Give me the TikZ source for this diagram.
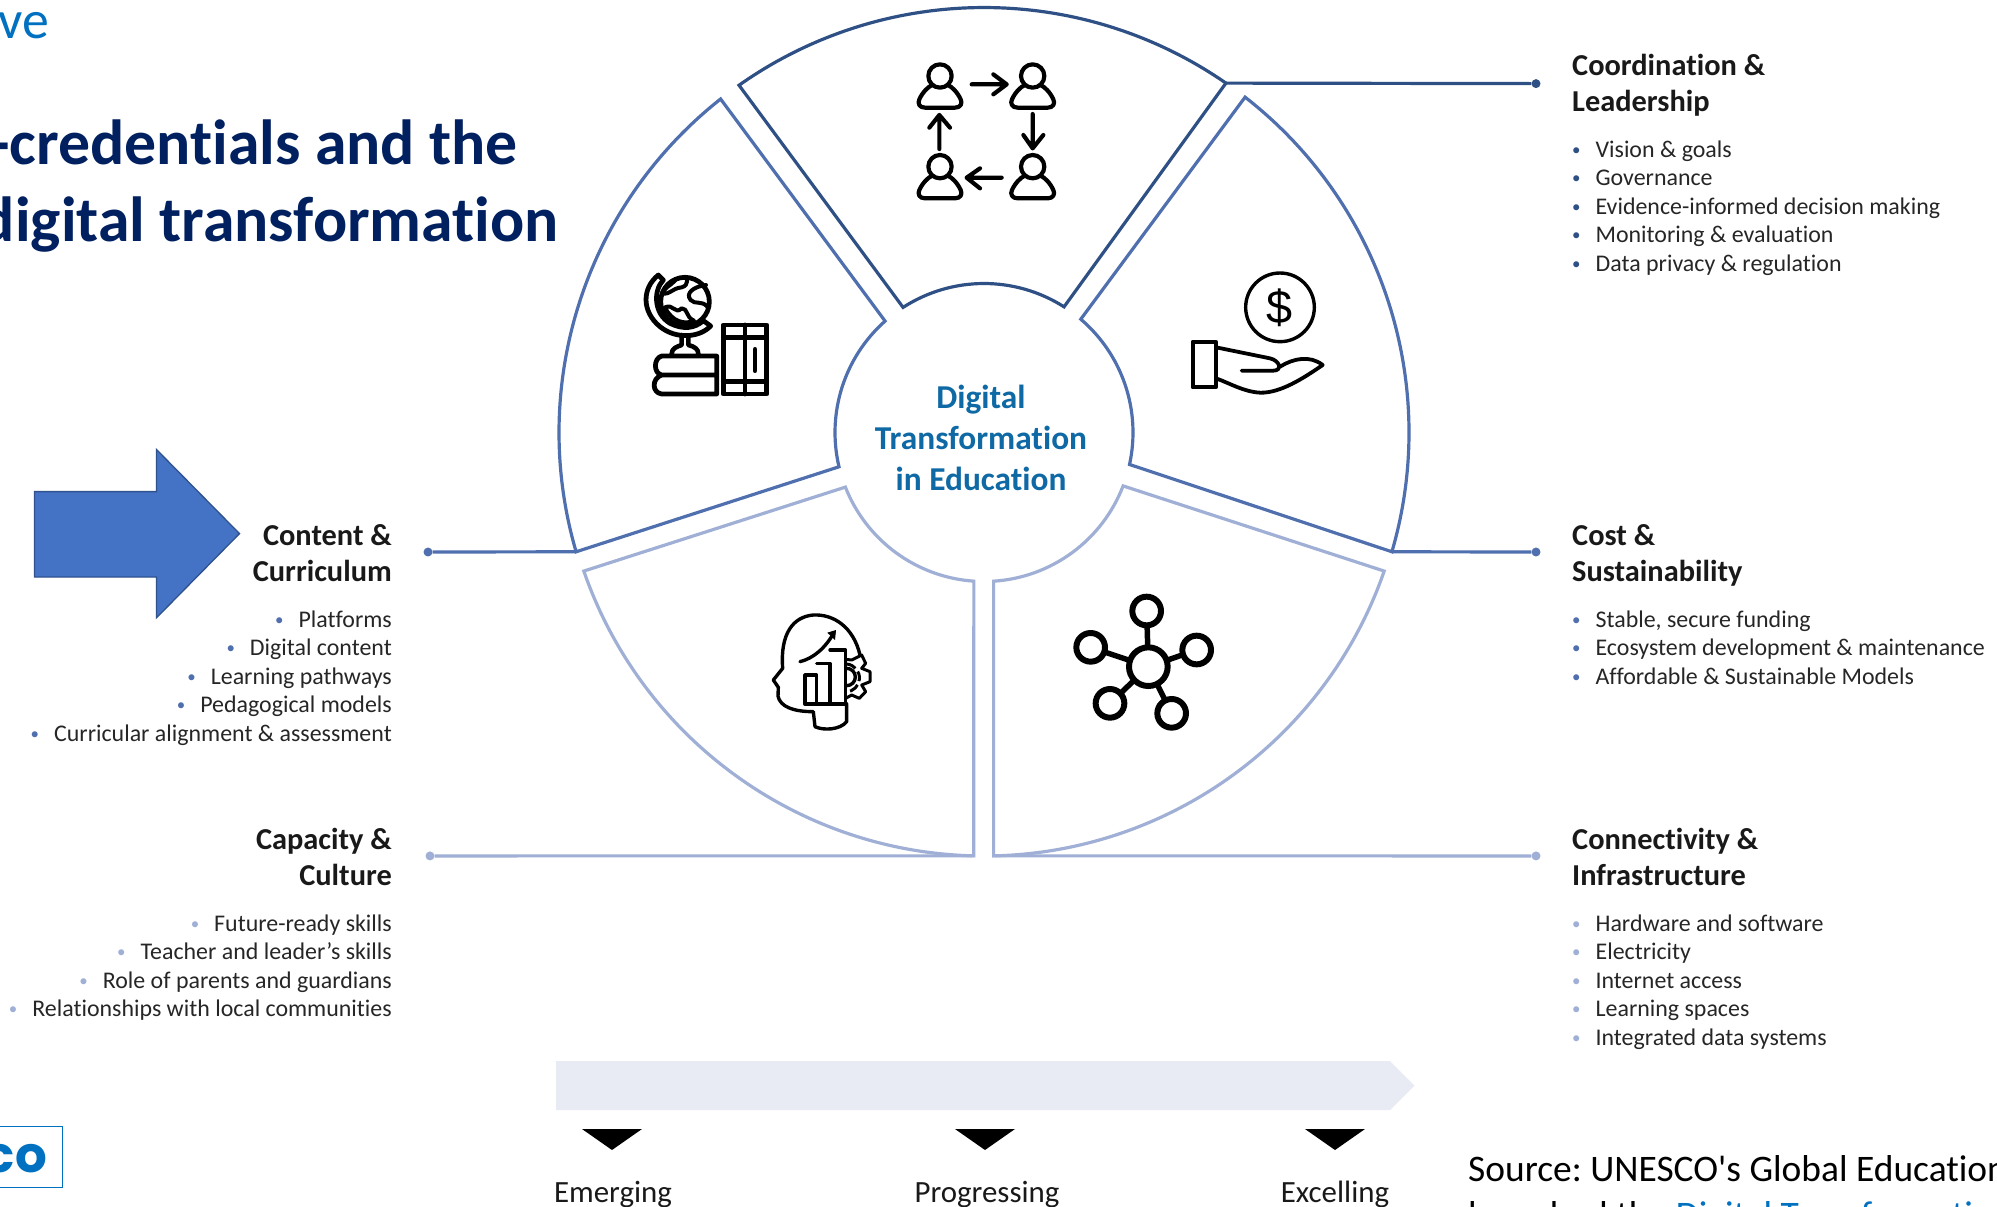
\documentclass[tikz,border=0pt]{standalone}
\usepackage{fontspec}
\setmainfont[Ligatures={TeX,NoCommon}]{Carlito}
\newfontfamily\srcfont[Ligatures={NoCommon}]{Carlito}
\newfontfamily\popfont{Poppins}
\newfontfamily\dollarfont{Liberation Sans}
\frenchspacing
\definecolor{cDark}{HTML}{2F5085}
\definecolor{cMid}{HTML}{4F6FAE}
\definecolor{cLight}{HTML}{9FAFD5}
\definecolor{cBar}{HTML}{E8EBF4}
\definecolor{cTitle}{HTML}{002060}
\definecolor{cBlue}{HTML}{0070C0}
\definecolor{cCentre}{HTML}{0F69A5}
\definecolor{cText}{HTML}{262626}
\definecolor{cArrow}{HTML}{4472C4}
\definecolor{cArrowLine}{HTML}{2F528F}
\newcommand{\bltx}[1]{\makebox[23.5pt][l]{\raisebox{1.8pt}{\fontsize{17}{17}\selectfont\textcolor{#1}{•}}}}
\newcommand{\bltd}{\bltx{cDark}}
\newcommand{\bltm}{\bltx{cMid}}
\newcommand{\bltl}{\bltx{cLight}}
\newcommand{\lsup}{\rule{0pt}{20pt}}
\newcommand{\hsup}{\rule{0pt}{24pt}}
\tikzset{
  sector/.style={line width=3.2pt,line join=miter,fill=white},
  link/.style={line width=3.2pt},
  dotend/.style={circle,inner sep=0pt,minimum size=9pt},
  headL/.style={inner sep=0pt,anchor=north west,align=left,text=black!90,font=\fontsize{30.5}{37}\selectfont\bfseries},
  headR/.style={inner sep=0pt,anchor=north east,align=right,text=black!90,font=\fontsize{30.5}{37}\selectfont\bfseries},
  listL/.style={inner sep=0pt,anchor=north west,align=left,text=cText,font=\fontsize{24}{28.6}\selectfont},
  listR/.style={inner sep=0pt,anchor=north east,align=right,text=cText,font=\fontsize{24}{28.6}\selectfont},
  level/.style={inner sep=0pt,anchor=base,text=black!90,font=\fontsize{31}{35}\selectfont},
  pointer/.style={fill=black,draw=none},
  icon/.style={line width=4.2pt,line cap=round,line join=round,draw=black},
  iconthin/.style={line width=3.4pt,line cap=round,line join=round,draw=black},
}
\begin{document}
\begin{tikzpicture}[x=1bp,y=1bp,yscale=-1]
\useasboundingbox (0,0) rectangle (1997,1206.5);
\fill[white] (0,0) rectangle (1997,1206.5);

% title
\node[inner sep=0pt,anchor=base east,text=cBlue,font=\fontsize{54}{60}\selectfont] (kicker) at (49,38) {ve};
\node[inner sep=0pt,anchor=base east,text=cTitle,font=\fontsize{64}{76}\selectfont\bfseries] (t1) at (518,164) {-credentials and the};
\node[inner sep=0pt,anchor=base east,text=cTitle,font=\fontsize{64}{76}\selectfont\bfseries] (t2) at (559,241) {digital transformation};

% wheel
\begin{scope}[shift={(984,432.5)}]
\draw[sector,draw=cMid] (-128.3:425) arc[start angle=-128.3,end angle=-196.3,radius=425] coordinate (leftC)
   -- (-193.3:149) arc[start angle=-193.3,end angle=-131.6,radius=149] -- cycle;
\draw[sector,draw=cMid] (-52.1:425) arc[start angle=-52.1,end angle=16.3,radius=425] coordinate (rightC)
   -- (12.4:149) arc[start angle=12.4,end angle=-49.5,radius=149] -- cycle;
\draw[sector,draw=cDark] (-125.2:425) arc[start angle=-125.2,end angle=-55.3,radius=425] coordinate (topC)
   -- (-57.5:149) arc[start angle=-57.5,end angle=-122.9,radius=149] -- cycle;
\draw[sector,draw=cLight] (160.9:423.5) arc[start angle=160.9,end angle=91.4,radius=423.5] coordinate (blC)
   -- (93.9:149) arc[start angle=93.9,end angle=158.5,radius=149] -- cycle;
\draw[sector,draw=cLight] (19.1:423.5) arc[start angle=19.1,end angle=88.7,radius=423.5] coordinate (brC)
   -- (86.3:149) arc[start angle=86.3,end angle=21,radius=149] -- cycle;
\end{scope}

\node[inner sep=0pt,align=center,text=cCentre,font=\fontsize{33.5}{41}\selectfont\bfseries] (centre) at (981,438) {Digital\\Transformation\\in Education};

% connector ends
\node[dotend,fill=cDark] (dTop) at (1536,83.6) {};
\node[dotend,fill=cMid] (dRight) at (1536,552) {};
\node[dotend,fill=cMid] (dLeft) at (428,552) {};
\node[dotend,fill=cLight] (dBL) at (430,855.9) {};
\node[dotend,fill=cLight] (dBR) at (1536,855.9) {};
\draw[link,draw=cDark] (topC) -- (dTop);
\draw[link,draw=cMid] (rightC) -- (dRight);
\draw[link,draw=cMid] (leftC) -- (dLeft);
\draw[link,draw=cLight] (blC) -- (dBL);
\draw[link,draw=cLight] (brC) -- (dBR);

% block arrow
\draw[fill=cArrow,draw=cArrowLine,line width=1.3pt,line join=miter]
 (34.4,491.6) -- (156.6,491.6) -- (156.6,449.6) -- (239.5,533.6) -- (156.6,617.7) -- (156.6,577) -- (34.4,577) -- cycle;

% right texts
\node[headL] (h1) at (1572,51) {\hsup Coordination \&\\Leadership};
\node[listL] (l1) at (1572,137) {\lsup\bltd Vision \& goals\\\bltd Governance\\\bltd Evidence-informed decision making\\\bltd Monitoring \& evaluation\\\bltd Data privacy \& regulation};
\node[headL] (h2) at (1572,521) {\hsup Cost \&\\Sustainability};
\node[listL] (l2) at (1572,607) {\lsup\bltm Stable, secure funding\\\bltm Ecosystem development \& maintenance\\\bltm Affordable \& Sustainable Models};
\node[headL] (h3) at (1572,825) {\hsup Connectivity \&\\Infrastructure};
\node[listL] (l3) at (1572,911) {\lsup\bltl Hardware and software\\\bltl Electricity\\\bltl Internet access\\\bltl Learning spaces\\\bltl Integrated data systems};

% left texts
\node[headR] (h4) at (392,521) {\hsup Content \&\\Curriculum};
\node[listR] (l4) at (392,607) {\lsup\bltm Platforms\\\bltm Digital content\\\bltm Learning pathways\\\bltm Pedagogical models\\\bltm Curricular alignment \& assessment};
\node[headR] (h5) at (392,825) {\hsup Capacity \&\\Culture};
\node[listR] (l5) at (392,911) {\lsup\bltl Future-ready skills\\\bltl Teacher and leader’s skills\\\bltl Role of parents and guardians\\\bltl Relationships with local communities};

% scale bar
\fill[cBar] (556,1061) -- (1390,1061) -- (1414.5,1085.5) -- (1390,1110) -- (556,1110) -- cycle;
\fill[pointer] (582,1129) -- (642,1129) -- (612,1150) -- cycle;
\fill[pointer] (955,1129) -- (1015,1129) -- (985,1150) -- cycle;
\fill[pointer] (1305,1129) -- (1365,1129) -- (1335,1150) -- cycle;
\node[level] (em) at (613,1202) {Emerging};
\node[level] (pr) at (987,1202) {Progressing};
\node[level] (ex) at (1335,1202) {Excelling};

% source
\node[inner sep=0pt,anchor=base west,text=black,font=\fontsize{37.6}{45}\srcfont] (src1) at (1468,1181) {Source: UNESCO's Global Education};
\node[inner sep=0pt,anchor=base west,text=black,font=\fontsize{37.6}{45}\srcfont] (src2) at (1468,1227) {launched the \textcolor{cBlue}{Digital Transformation}};

% logo
\draw[draw=cBlue,line width=1.4pt] (-5,1126.5) rectangle (62.5,1187.5);
\node[inner sep=0pt,anchor=base east,text=cBlue,font=\fontsize{50}{50}\popfont\bfseries] (logo) at (47,1172.5) {co};

% icon: people
\begin{scope}[shift={(880,40)},scale=1/3]
\foreach \px/\py in {180/108,458/108,180/380,458/380}{
  \begin{scope}[shift={(\px,\py)}]
   \draw[icon,fill=white] (-45,95) -- (45,95) .. controls (62,95) and (68,82) .. (62,70) .. controls (52,48) and (35,32) .. (25,28) -- (-25,28) .. controls (-35,32) and (-52,48) .. (-62,70) .. controls (-68,82) and (-62,95) .. (-45,95) -- cycle;
   \draw[icon,fill=white] (0,0) circle[radius=35];
  \end{scope}
}
\draw[icon] (275,133) -- (380,133) (340,103) -- (380,133) -- (340,163);
\draw[icon] (458,222) -- (458,325) (430,285) -- (458,325) -- (490,285);
\draw[icon] (365,413) -- (260,413) (300,385) -- (260,413) -- (300,445);
\draw[icon] (178,327) -- (178,225) (148,263) -- (178,225) -- (210,263);
\end{scope}

% icon: globe and books
\begin{scope}[shift={(620,250)},scale=1/3]
\draw[icon,line width=4.8pt] (195,155) circle[radius=73];
\draw[icon,line width=4.8pt] (115,75) -- (130,90) .. controls (100,120) and (100,190) .. (150,220) .. controls (190,240) and (225,235) .. (250,212) -- (272,228) .. controls (240,262) and (170,270) .. (120,230) .. controls (65,185) and (65,115) .. (115,75) -- cycle;
\draw[icon,line width=4pt] (165,92) .. controls (150,108) and (130,115) .. (128,130) .. controls (150,135) and (155,115) .. (185,112) .. controls (210,105) and (195,85) .. (205,85);
\draw[icon,line width=4pt] (258,105) .. controls (220,110) and (195,130) .. (212,150) .. controls (225,165) and (245,150) .. (262,170);
\draw[icon,line width=4pt] (135,172) .. controls (160,160) and (165,195) .. (185,175) .. controls (205,175) and (195,200) .. (222,212) .. controls (195,225) and (155,215) .. (135,172);
\draw[icon,line width=4.6pt] (185,255) -- (185,285) .. controls (170,290) and (155,295) .. (155,312) (205,258) -- (205,285) .. controls (225,290) and (235,298) .. (235,312);
\draw[icon,line width=4.8pt] (290,318) -- (125,318) .. controls (100,325) and (100,370) .. (125,375) -- (290,375) (125,375) .. controls (95,385) and (95,428) .. (125,432) -- (290,432) -- (290,318);
\draw[icon,line width=4.8pt] (310,225) rectangle (440,432) (375,225) -- (375,432) (310,262) -- (440,262) (310,395) -- (440,395);
\draw[icon,line width=4.8pt] (405,298) -- (405,362);
\end{scope}

% icon: hand and coin
\begin{scope}[shift={(1170,250)},scale=1/3]
\draw[iconthin] (330,172) circle[radius=103];
\node[inner sep=0pt,font=\fontsize{47}{47}\dollarfont] (dollar) at (330,173) {\$};
\draw[iconthin,line width=3.8pt] (68,275) rectangle (138,412);
\draw[iconthin,line width=3.8pt] (138,292) -- (300,325) .. controls (330,332) and (338,362) .. (310,362) -- (215,362)
  (330,350) .. controls (370,325) and (420,315) .. (458,345) .. controls (400,385) and (330,430) .. (270,428) .. controls (220,425) and (180,400) .. (138,385);
\end{scope}

% icon: head with chart and gear
\begin{scope}[shift={(750,590)},scale=1/3]
\draw[iconthin] (330,195) .. controls (310,110) and (250,72) .. (190,75) .. controls (130,80) and (90,130) .. (98,235) -- (70,270) -- (85,292) -- (84,318) .. controls (90,350) and (130,365) .. (190,365) -- (195,410) .. controls (220,422) and (270,420) .. (290,395) -- (290,345);
\draw[iconthin] (165,255) -- (165,342) -- (290,342) (165,255) -- (200,255) -- (200,342) (200,220) -- (240,220) -- (240,342) (240,180) -- (287,180) -- (287,342);
\draw[iconthin] (150,215) .. controls (190,205) and (225,175) .. (252,128);
\fill (258,120) -- (232,128) -- (255,150) -- cycle;
\draw[iconthin,line width=3pt] (287,208) -- (305,210) -- (335,195) -- (347,220) -- (335,235) -- (360,245) -- (360,275) -- (335,285) -- (347,305) -- (328,325) -- (305,315) -- (287,325);
\draw[iconthin,line width=3pt,line cap=butt,dash pattern=on 10pt off 4pt] (290,222) arc[start angle=-85,end angle=85,radius=42];
\draw[iconthin] (290,235) arc[start angle=-90,end angle=90,radius=26];
\end{scope}

% icon: network
\begin{scope}[shift={(1050,580)},scale=1/3]
\draw[line width=5.5pt] (295,260) -- (290,93) (295,260) -- (440,210) (295,260) -- (122,202) (295,260) -- (180,370) (295,260) -- (365,400);
\foreach \cx/\cy in {290/93,440/210,122/202,180/370,365/400}{
  \draw[line width=6pt,fill=white] (\cx,\cy) circle[radius=43];
}
\draw[line width=6pt,fill=white] (295,260) circle[radius=58];
\end{scope}
\end{tikzpicture}
\end{document}
